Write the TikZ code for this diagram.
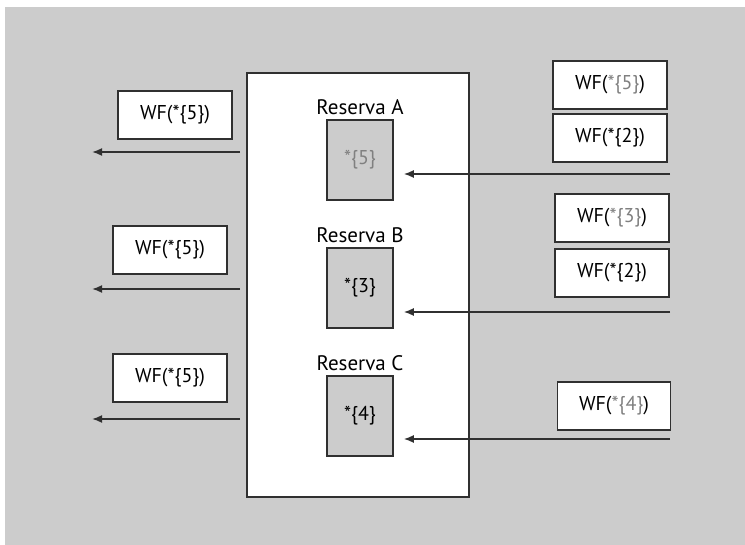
\documentclass[tikz,border=0pt]{standalone}
\usepackage{fontspec}
\setmainfont{PT Sans}
\usetikzlibrary{arrows.meta}

\definecolor{bggray}{HTML}{CCCCCC}
\definecolor{linegray}{HTML}{303030}
\definecolor{txtgray}{HTML}{808080}
\newcommand{\faded}[1]{\textcolor{txtgray}{#1}}

\begin{document}
\begin{tikzpicture}[x=1pt,y=-1pt,
    msg/.style={draw=linegray,line width=1.5pt,fill=white,minimum width=114pt,minimum height=48pt,inner sep=0pt,font=\fontsize{20}{23}\selectfont},
    slot/.style={draw=linegray,line width=1.5pt,fill=bggray,minimum width=66pt,minimum height=80pt,inner sep=0pt,font=\fontsize{20}{23}\selectfont},
    lbl/.style={inner sep=0pt,font=\fontsize{21}{23}\selectfont},
    arr/.style={line width=1.7pt,draw=linegray,-{Latex[length=10pt,width=8pt]}}]
    \useasboundingbox (0,0) rectangle (745,545);
    \fill[bggray] (5,7) rectangle (745,545);
    % the server with its three reservations
    \node[draw=linegray,line width=1.5pt,fill=white,minimum width=222pt,minimum height=424pt] (srv) at (358,285) {};
    \node[lbl] (lblA) at (360,107) {Reserva A};
    \node[lbl] (lblB) at (360,235) {Reserva B};
    \node[lbl] (lblC) at (360,363) {Reserva C};
    \node[slot] (slotA) at (360,160) {\faded{*\{5\}}};
    \node[slot] (slotB) at (360,288) {*\{3\}};
    \node[slot] (slotC) at (360,416) {*\{4\}};
    % incoming messages
    \node[msg] (inA1) at (610,85) {WF(\faded{*\{5\}})};
    \node[msg] (inA2) at (610,138) {WF(*\{2\})};
    \node[msg] (inB1) at (612,218) {WF(\faded{*\{3\}})};
    \node[msg] (inB2) at (612,273) {WF(*\{2\})};
    \node[msg,minimum width=113pt] (inC) at (614,406) {WF(\faded{*\{4\}})};
    % outgoing messages
    \node[msg] (outA) at (175,115) {WF(*\{5\})};
    \node[msg] (outB) at (170,250) {WF(*\{5\})};
    \node[msg] (outC) at (170,378) {WF(*\{5\})};
    \coordinate (srcA) at (670,174);
    \coordinate (srcB) at (670,312);
    \coordinate (srcC) at (670,439);
    \coordinate (fromA) at (240,152);
    \coordinate (fromB) at (240,289);
    \coordinate (fromC) at (240,419);
    \coordinate (toA) at (92,152);
    \coordinate (toB) at (92,289);
    \coordinate (toC) at (92,419);
    \draw[arr] (srcA) -- ([xshift=10pt]slotA.east |- srcA);
    \draw[arr] (srcB) -- ([xshift=10pt]slotB.east |- srcB);
    \draw[arr] (srcC) -- ([xshift=10pt]slotC.east |- srcC);
    \draw[arr] (fromA) -- (toA);
    \draw[arr] (fromB) -- (toB);
    \draw[arr] (fromC) -- (toC);
\end{tikzpicture}
\end{document}
